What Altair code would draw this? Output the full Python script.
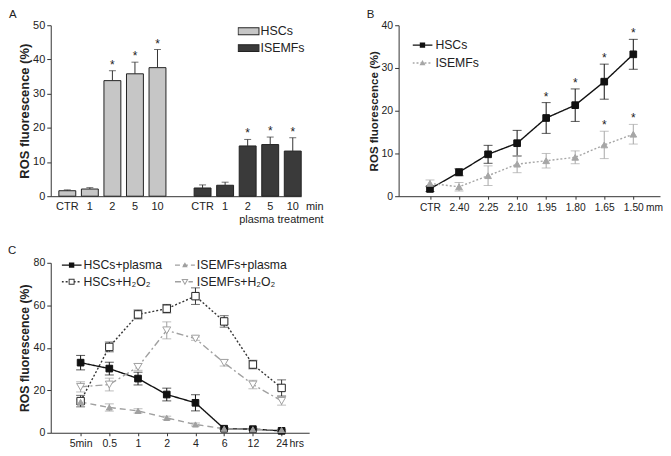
import altair as alt
import pandas as pd

FONT = "Liberation Sans"
TXT = "#222222"

# ---------------- Panel A data ----------------
a_groups = ["HSCs", "ISEMFs"]
a_cats = ["CTR", "1", "2", "5", "10"]
a_hsc = [1.6, 2.1, 33.8, 35.8, 37.6]
a_hsc_err = [0.25, 0.4, 2.9, 3.4, 5.3]
a_ise = [2.4, 3.2, 14.7, 15.1, 13.2]
a_ise_err = [0.9, 0.9, 1.9, 2.2, 3.9]
a_star = [False, False, True, True, True]
a_colors = ["#c6c6c6", "#3a3a3a"]

# ---------------- Panel B data ----------------
b_x = ["CTR", "2.40", "2.25", "2.10", "1.95", "1.80", "1.65", "1.50"]
b_series = ["HSCs", "ISEMFs"]
b_hsc = [1.7, 5.6, 9.8, 12.4, 18.3, 21.3, 26.8, 33.2]
b_hsc_err = [0.6, 0.8, 2.1, 3.0, 3.6, 3.8, 4.1, 3.5]
b_hsc_star = [False, False, False, False, True, True, True, True]
b_ise = [3.0, 2.2, 4.8, 7.5, 8.3, 9.1, 12.0, 14.5]
b_ise_err = [0.8, 1.0, 2.3, 2.0, 1.7, 1.5, 3.2, 2.3]
b_ise_star = [False, False, False, False, False, False, True, True]

# ---------------- Panel C data ----------------
c_x = ["5min", "0.5", "1", "2", "4", "6", "12", "24"]
c_series = ["HSCs+plasma", "HSCs+H\u2082O\u2082", "ISEMFs+plasma", "ISEMFs+H\u2082O\u2082"]
c_hsc_pl = [33.0, 30.2, 25.5, 18.0, 14.1, 1.9, 1.7, 0.9]
c_hsc_pl_err = [3.4, 3.0, 3.0, 3.0, 3.8, 0.4, 0.4, 0.4]
c_hsc_h2o2 = [14.9, 40.4, 55.7, 58.4, 64.3, 52.4, 32.1, 21.1]
c_hsc_h2o2_err = [2.7, 2.3, 2.1, 2.0, 3.9, 2.7, 2.0, 3.8]
c_ise_pl = [14.5, 11.9, 10.3, 7.0, 3.9, 1.9, 1.6, 1.3]
c_ise_pl_err = [1.2, 1.7, 1.0, 0.8, 0.7, 0.3, 0.3, 0.3]
c_ise_h2o2 = [21.6, 22.7, 31.0, 48.2, 44.3, 32.9, 22.7, 15.0]
c_ise_h2o2_err = [2.4, 3.0, 1.6, 4.0, 0.8, 1.5, 2.0, 2.0]

# ---------------- styles ----------------
# (line colour, dash, marker shape, fill, stroke, marker size, legend dash, legend marker, legend marker half px)
B_STYLE = [
    ("#111111", [1, 0], "square", "#111111", "#111111", 45, None, "square", 2.7),
    ("#a6a6a6", [2, 2], "triangle-up", "#a6a6a6", "#a6a6a6", 45, [2, 2], "tri-up", 3.0),
]
C_STYLE = [
    ("#111111", [1, 0], "square", "#111111", "#111111", 45, None, "square", 2.7),
    ("#333333", [2, 2], "square", "white", "#222222", 56, [2, 2], "open-square", 3.0),
    ("#a0a0a0", [6, 4], "triangle-up", "#a0a0a0", "#a0a0a0", 36, [5, 3], "tri-up", 2.8),
    ("#a0a0a0", [7, 3, 2, 3], "triangle-down", "white", "#a0a0a0", 64, [6, 2, 2, 2], "open-tri-down", 3.6),
]

RES = dict(color="independent", shape="independent")


def glyph(L, dash, marker, s, lh=0.7, t=1.0):
    """Custom legend symbol (line segment with a marker) in Vega's [-1, 1] unit box."""
    u = L / 2.0

    def f(v):
        return f"{v / u:.3f}"

    def rect(x0, y0, x1, y1, rev=False):
        if rev:
            return f"M{f(x0)},{f(y0)}V{f(y1)}H{f(x1)}V{f(y0)}Z"
        return f"M{f(x0)},{f(y0)}H{f(x1)}V{f(y1)}H{f(x0)}Z"

    open_m = marker.startswith("open")
    parts = []
    segs = []
    if dash is None:
        segs = [(-u, u)]
    else:
        x = -u
        i = 0
        while x < u:
            ln = dash[i % len(dash)]
            if i % 2 == 0:
                segs.append((x, min(x + ln, u)))
            x += ln
            i += 1
    for a, b in segs:
        if open_m:
            for lo, hi in [(a, min(b, -s)), (max(a, s), b)]:
                if hi > lo:
                    parts.append(rect(lo, -lh, hi, lh))
        else:
            parts.append(rect(a, -lh, b, lh))
    if marker == "square":
        parts.append(rect(-s, -s, s, s))
    elif marker == "open-square":
        parts.append(rect(-s, -s, s, s))
        parts.append(rect(-s + t, -s + t, s - t, s - t, rev=True))
    elif marker == "tri-up":
        parts.append(f"M0,{f(-s)}L{f(s)},{f(0.75 * s)}L{f(-s)},{f(0.75 * s)}Z")
    elif marker == "open-tri-down":
        parts.append(f"M{f(-s)},{f(-0.75 * s)}L{f(s)},{f(-0.75 * s)}L0,{f(s)}Z")
        k = s - 1.8 * t
        parts.append(f"M{f(-k)},{f(-0.75 * s + t)}L0,{f(k - 0.2)}L{f(k)},{f(-0.75 * s + t)}Z")
    return "".join(parts)


def letter(t, x, y):
    return alt.Chart(pd.DataFrame({"t": [t]})).mark_text(
        align="left", baseline="alphabetic", fontSize=11.5, font=FONT, color=TXT
    ).encode(x=alt.value(x), y=alt.value(y), text="t:N")


# ================= Panel A =================
rowsA = []
for g, vals, errs in [("HSCs", a_hsc, a_hsc_err), ("ISEMFs", a_ise, a_ise_err)]:
    for c, v, e, s in zip(a_cats, vals, errs, a_star):
        rowsA.append({"group": g, "key": g + "|" + c, "mean": v, "hi": v + e,
                      "star": "*" if s else ""})
dfA = pd.DataFrame(rowsA)
a_domain = ["HSCs|" + c for c in a_cats] + ["gap"] + ["ISEMFs|" + c for c in a_cats]

xA = alt.X("key:N", scale=alt.Scale(domain=a_domain, paddingInner=0.25, paddingOuter=0.18, align=1),
           axis=alt.Axis(title=["min", "plasma treatment"],
                         labelExpr="indexof(datum.value,'|') >= 0 ? split(datum.value,'|')[1] : ''",
                         labelAngle=0, ticks=False, labelPadding=4, labelFontSize=11,
                         titleFontSize=11, titleFontWeight="normal", titleX=274, titleY=4,
                         titleAlign="right", titleBaseline="top"))


def yA(f):
    return alt.Y(f, type="quantitative", scale=alt.Scale(domain=[0, 50]),
                 axis=alt.Axis(values=[0, 10, 20, 30, 40, 50], title="ROS fluorescence (%)",
                               titleFontSize=13, titleFontWeight="bold", tickSize=4,
                               labelPadding=2, titlePadding=1, labelFontSize=11))


A_LEG = dict(title=None, orient="none", legendX=188, legendY=0, symbolSize=484,
             symbolStrokeWidth=0, symbolOpacity=1, labelFontSize=12.5, labelOffset=1,
             clipHeight=12, rowPadding=4)
baseA = alt.Chart(dfA)
barsA = baseA.mark_bar(stroke="#222222", strokeWidth=1).encode(
    x=xA, y=yA("mean"),
    color=alt.Color("group:N", scale=alt.Scale(domain=a_groups, range=a_colors),
                    legend=alt.Legend(symbolType="M-0.95,-0.3H0.95V0.3H-0.95Z", **A_LEG)))
# outline of the legend boxes (second legend drawn on the same spot)
ring = "M-1,-0.36H1V0.36H-1ZM-0.91,-0.27V0.27H0.91V-0.27Z"
ringA = baseA.transform_filter("false").mark_point(filled=True, color="#222222", opacity=1,
                                                    strokeWidth=0).encode(
    x=xA, y=yA("mean"),
    shape=alt.Shape("group:N", scale=alt.Scale(domain=[g + " " for g in a_groups], range=[ring, ring]),
                    legend=alt.Legend(labelColor="transparent", **A_LEG)))
errA = baseA.mark_rule(color="#333333", strokeWidth=1).encode(x=xA, y=yA("mean"), y2="hi")
capA = baseA.mark_tick(color="#333333", size=7, thickness=1).encode(x=xA, y=yA("hi"))
starA = baseA.mark_text(fontSize=12, baseline="alphabetic", dy=-2, color=TXT, font=FONT).encode(
    x=xA, y=yA("hi"), text="star:N")
chartA = alt.layer(barsA, errA, capA, starA, ringA, letter("A", -42, -7)).properties(
    width=252, height=172)


# ================= line panel helper =================
def line_panel(df, xdom, series, styles, ydom, yvals, width, height, xfont, yfont, ytfont, unit,
               unitX, pad, align, lx, ly, columns, colpad, rowpad, L, loff, cap, lab):
    xenc = alt.X("x:N", sort=xdom, scale=alt.Scale(type="point", padding=pad, align=align),
                 axis=alt.Axis(title=unit, labelAngle=0, tickSize=3, labelPadding=3,
                               labelFontSize=xfont, titleFontSize=xfont, titleFontWeight="normal",
                               titleX=unitX, titleY=6, titleBaseline="top", titleAlign="center"))

    def yenc(f):
        return alt.Y(f, type="quantitative", scale=alt.Scale(domain=ydom),
                     axis=alt.Axis(values=yvals, title="ROS fluorescence (%)",
                                   titleFontSize=ytfont, titleFontWeight="bold", tickSize=4,
                                   labelPadding=2, titlePadding=2, labelFontSize=yfont))

    base = alt.Chart(df)
    lines, errs, pts = [], [], []
    for s, st in zip(series, styles):
        col, dash, shp, fill, strk, size = st[:6]
        sub = base.transform_filter(alt.datum.series == s)
        lines.append(sub.mark_line(color=col, strokeDash=dash, strokeWidth=1.4).encode(
            x=xenc, y=yenc("mean")))
        errs.append(sub.mark_rule(color=col, strokeWidth=1).encode(x=xenc, y=yenc("lo"), y2="hi"))
        errs.append(sub.mark_tick(color=col, size=cap, thickness=1).encode(x=xenc, y=yenc("hi")))
        errs.append(sub.mark_tick(color=col, size=cap, thickness=1).encode(x=xenc, y=yenc("lo")))
        pts.append(sub.mark_point(shape=shp, filled=True, fill=fill, stroke=strk, strokeWidth=1,
                                  size=size, opacity=1).encode(x=xenc, y=yenc("mean")))
    glyphs = [glyph(L, st[6], st[7], st[8]) for st in styles]
    colors = [st[0] for st in styles]
    leg = alt.Legend(title=None, orient="none", legendX=lx, legendY=ly, columns=columns,
                     columnPadding=colpad, rowPadding=rowpad, clipHeight=12, labelFontSize=12.3,
                     labelOffset=loff, symbolSize=L * L, symbolStrokeWidth=0, symbolOpacity=1)
    legend_layer = base.transform_filter("false").mark_point(
        filled=True, opacity=1, strokeWidth=0, size=L * L).encode(
        x=xenc, y=yenc("mean"),
        color=alt.Color("series:N", scale=alt.Scale(domain=series, range=colors), legend=leg),
        shape=alt.Shape("series:N", scale=alt.Scale(domain=series, range=glyphs), legend=leg))
    stars = base.mark_text(fontSize=12, baseline="alphabetic", dy=-2, color=TXT, font=FONT).encode(
        x=xenc, y=yenc("hi"), text="star:N")
    return alt.layer(*lines, *errs, *pts, stars, legend_layer, lab).properties(
        width=width, height=height)


def make_df(series, xs, means, errs, stars=None):
    rows = []
    for i, s in enumerate(series):
        for j, x in enumerate(xs):
            v = means[i][j]
            e = errs[i][j]
            st = stars[i][j] if stars else False
            rows.append({"series": s, "x": x, "mean": v, "lo": v - e, "hi": v + e,
                         "star": "*" if st else ""})
    return pd.DataFrame(rows)


dfB = make_df(b_series, b_x, [b_hsc, b_ise], [b_hsc_err, b_ise_err], [b_hsc_star, b_ise_star])
chartB = line_panel(dfB, b_x, b_series, B_STYLE, [0, 40], [0, 10, 20, 30, 40], 263, 172,
                    10.3, 10.5, 11.6, "mm", 257, 1.057, 0.54, 14, 14, 1, 0, 5, 20, 3, 9,
                    letter("B", -32, -7))

dfC = make_df(c_series, c_x, [c_hsc_pl, c_hsc_h2o2, c_ise_pl, c_ise_h2o2],
              [c_hsc_pl_err, c_hsc_h2o2_err, c_ise_pl_err, c_ise_h2o2_err])
chartC = line_panel(dfC, c_x, c_series, C_STYLE, [0, 80], [0, 20, 40, 60, 80], 260, 171,
                    10.6, 10.6, 12.3, "hrs", 247, 1.07, 0.52, 11, -4, 2, 13, 4, 20, 2, 9,
                    letter("C", -43, -9))

top = alt.hconcat(chartA, chartB, spacing=98, bounds="flush").resolve_scale(**RES)
chart = alt.vconcat(top, chartC, spacing=21).resolve_scale(**RES).properties(
    padding={"left": 0, "top": 0, "right": 0, "bottom": 0}
).configure_view(stroke=None).configure_axis(
    labelFont=FONT, titleFont=FONT, labelColor=TXT, titleColor=TXT,
    domainColor="#333333", tickColor="#333333", grid=False
).configure_legend(labelFont=FONT, labelColor=TXT).configure_title(font=FONT, color=TXT)

chart.save("out.html", embed_options={"renderer": "svg", "actions": False})
